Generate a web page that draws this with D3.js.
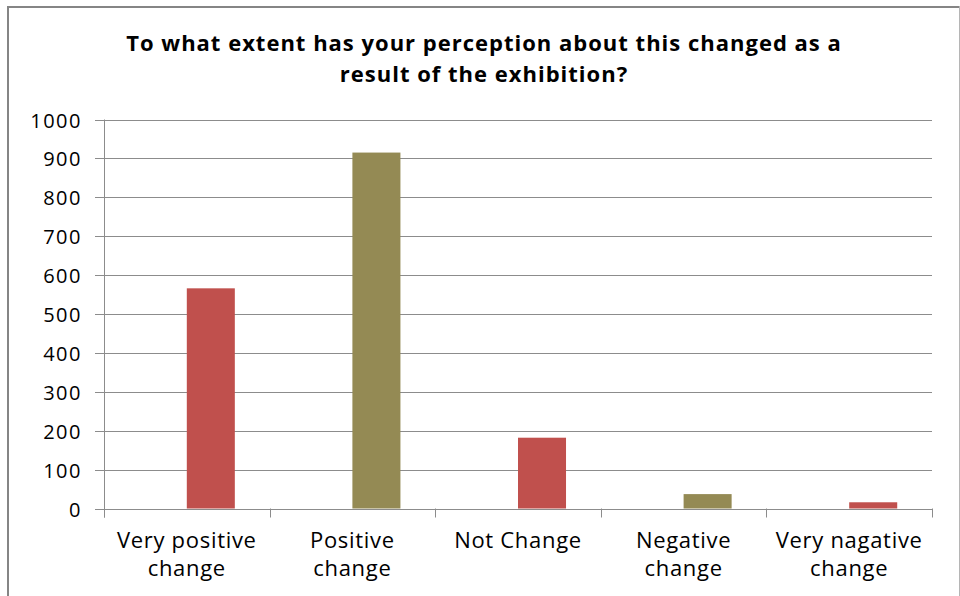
<!DOCTYPE html>
<html>
<head>
<meta charset="utf-8">
<script src="https://cdn.jsdelivr.net/npm/d3@7"></script>
<style>
  html, body { margin: 0; padding: 0; background: #fff; }
  svg { display: block; }
  text { font-family: "Open Sans", sans-serif; fill: #000; }
</style>
</head>
<body>
<svg id="chart" width="960" height="596"></svg>
<script>
const categories = ["Very positive change", "Positive change", "Not Change", "Negative change", "Very nagative change"];
const categoryLines = [["Very positive", "change"], ["Positive", "change"], ["Not Change"], ["Negative", "change"], ["Very nagative", "change"]];
const values = [566, 915, 182, 37, 16];
const yTicks = [0, 100, 200, 300, 400, 500, 600, 700, 800, 900, 1000];
const titleLines = ["To what extent has your perception about this changed as a", "result of the exhibition?"];

const svg = d3.select("#chart");
const W = 960, H = 596;
const pLeft = 104, pRight = 932, pTop = 119.5, pBottom = 508.5;

svg.append("rect").attr("x", 0).attr("y", 0).attr("width", W).attr("height", H).attr("fill", "#fff");
// frame
svg.append("line").attr("x1", 8).attr("x2", 8).attr("y1", 6).attr("y2", H).attr("stroke", "#858585").attr("stroke-width", 2);
svg.append("line").attr("x1", 7).attr("x2", 959).attr("y1", 7).attr("y2", 7).attr("stroke", "#858585").attr("stroke-width", 2);
svg.append("line").attr("x1", 959.5).attr("x2", 959.5).attr("y1", 6).attr("y2", H).attr("stroke", "#b5b5b5").attr("stroke-width", 1);

const x = d3.scaleBand().domain(categories).range([pLeft, pRight]).padding(0);
const y = d3.scaleLinear().domain([0, 1000]).range([pBottom, pTop]);

const gridColor = "#8c8c8c";
// gridlines
svg.append("g").selectAll("line").data(yTicks.filter(d => d > 0)).join("line")
  .attr("x1", pLeft).attr("x2", pRight)
  .attr("y1", d => Math.round(y(d)) + 0.5).attr("y2", d => Math.round(y(d)) + 0.5)
  .attr("stroke", gridColor).attr("stroke-width", 1);

// y axis
const yAxis = d3.axisLeft(y).tickValues(yTicks).tickSize(9).tickPadding(13).tickFormat(d3.format("d"));
const gy = svg.append("g").attr("transform", `translate(${pLeft},0)`).call(yAxis);
gy.select(".domain").remove();
gy.selectAll(".tick line").attr("stroke", gridColor);
gy.selectAll(".tick").attr("transform", d => `translate(0,${Math.round(y(d)) + 0.5})`);
gy.selectAll(".tick text").attr("font-size", 20).attr("letter-spacing", "1.5px")
  .attr("font-family", "Open Sans, sans-serif").attr("fill", "#000").attr("dy", "0.35em");
svg.append("line").attr("x1", pLeft + 0.5).attr("x2", pLeft + 0.5).attr("y1", pTop).attr("y2", pBottom + 9).attr("stroke", gridColor);

// bars
const colors = ["#C0504D", "#948A54"];
const barW = x.bandwidth() * 0.29;
svg.append("g").selectAll("rect").data(values).join("rect")
  .attr("x", (d, i) => x(categories[i]) + x.bandwidth() / 2)
  .attr("width", barW)
  .attr("y", d => y(d))
  .attr("height", d => y(0) - y(d))
  .attr("fill", (d, i) => colors[i % 2]);

// x axis
svg.append("line").attr("x1", pLeft).attr("x2", pRight).attr("y1", Math.round(y(0)) + 0.5).attr("y2", Math.round(y(0)) + 0.5).attr("stroke", gridColor);
const bounds = categories.map(c => x(c)).concat([pRight]);
svg.append("g").selectAll("line").data(bounds).join("line")
  .attr("x1", d => Math.round(d) + 0.5).attr("x2", d => Math.round(d) + 0.5)
  .attr("y1", pBottom).attr("y2", pBottom + 9).attr("stroke", gridColor);

const gl = svg.append("g");
categories.forEach((c, i) => {
  const cx = x(c) + x.bandwidth() / 2;
  const t = gl.append("text").attr("text-anchor", "middle").attr("font-size", 22).attr("letter-spacing", "0.7px")
    .attr("x", cx).attr("y", 548);
  categoryLines[i].forEach((ln, j) => {
    t.append("tspan").attr("x", cx).attr("y", 548 + j * 28).text(ln);
  });
});

// title
const tt = svg.append("text").attr("text-anchor", "middle").attr("font-size", 22).attr("font-weight", "bold").attr("letter-spacing", "1px");
titleLines.forEach((ln, j) => {
  tt.append("tspan").attr("x", 484).attr("y", 51 + j * 31).text(ln);
});
</script>
</body>
</html>
